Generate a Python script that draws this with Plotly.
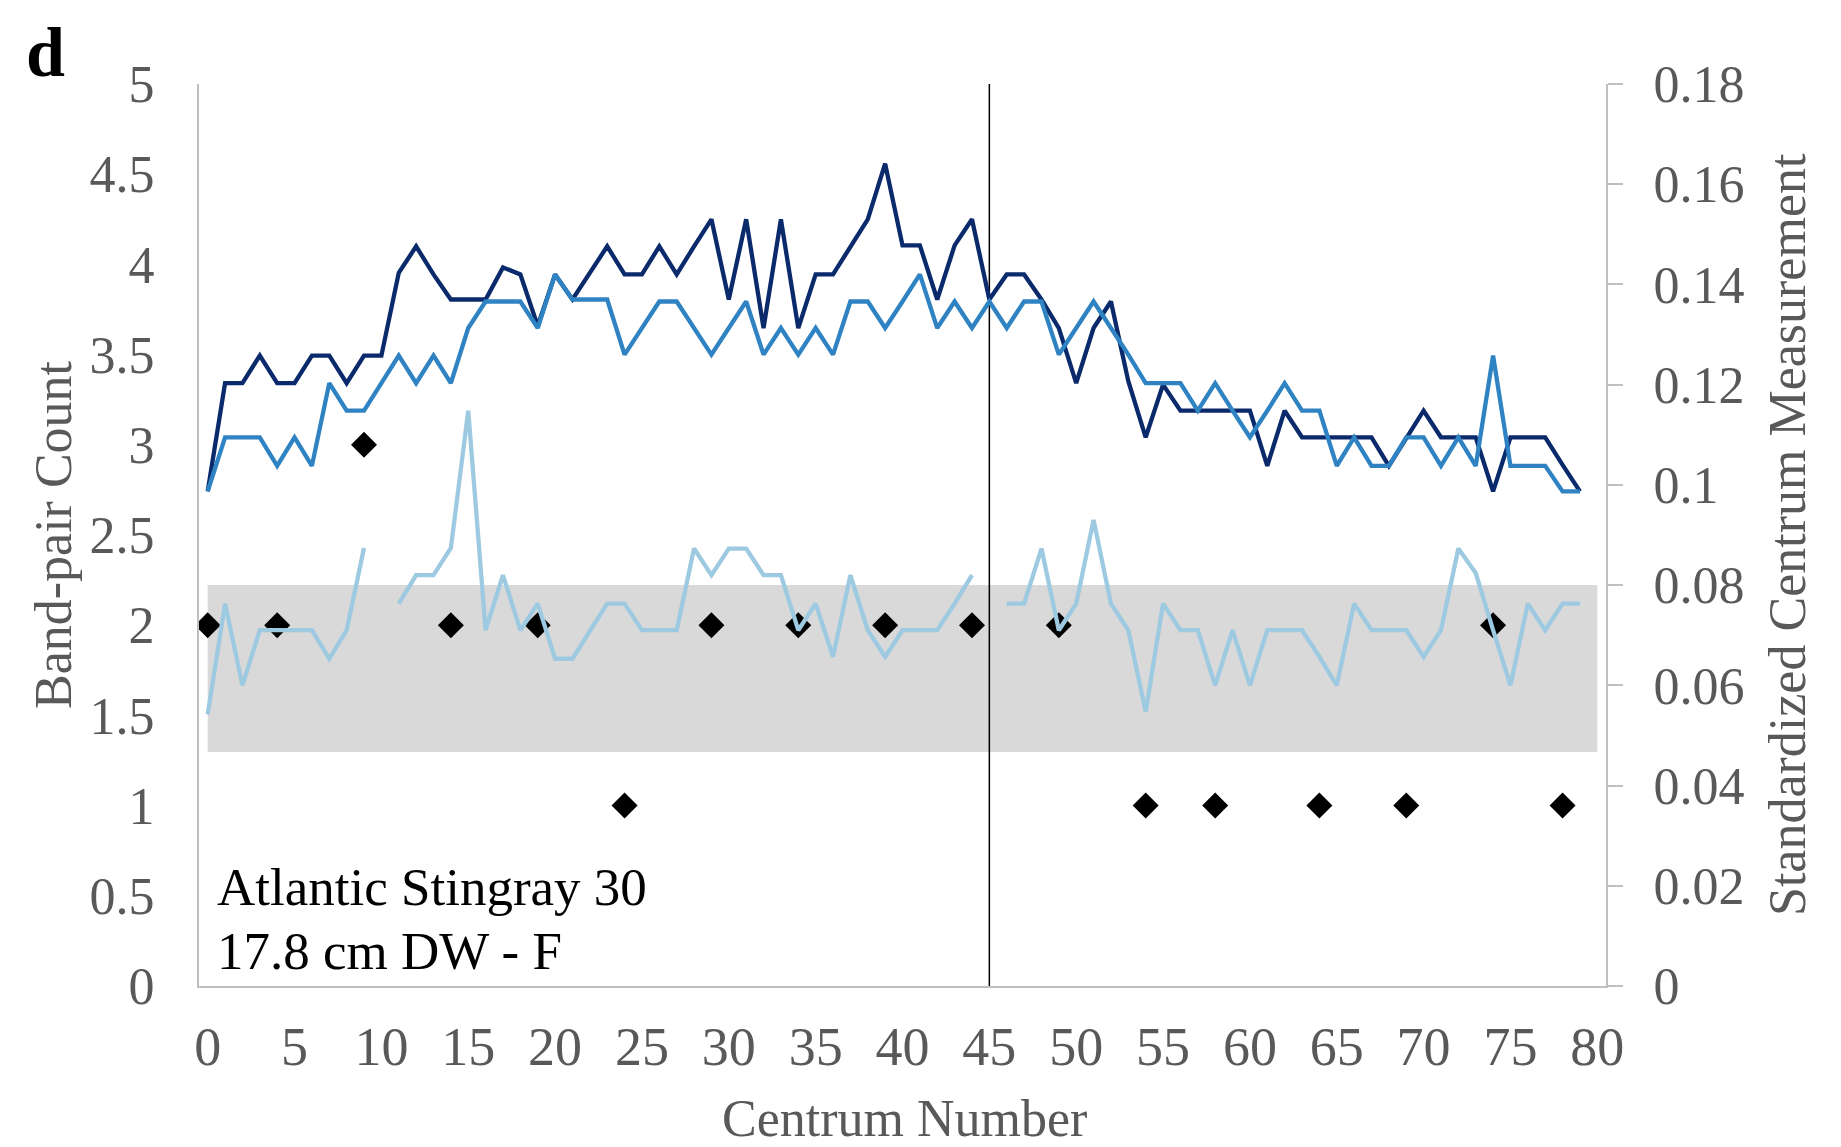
import plotly.graph_objects as go

centrum = list(range(80))

dark_series = [0.0987, 0.1203, 0.1203, 0.1258, 0.1203, 0.1203, 0.1258, 0.1258, 0.1203, 0.1258,
               0.1258, 0.1423, 0.1476, 0.1420, 0.1370, 0.1370, 0.1370, 0.1434, 0.1420, 0.1317,
               0.1420, 0.1370, 0.1423, 0.1476, 0.1420, 0.1420, 0.1476, 0.1420, 0.1476, 0.1530,
               0.1370, 0.1530, 0.1313, 0.1530, 0.1313, 0.1420, 0.1420, 0.1476, 0.1530, 0.1641,
               0.1478, 0.1478, 0.1370, 0.1478, 0.1530, 0.1370, 0.1420, 0.1420, 0.1370, 0.1313,
               0.1203, 0.1313, 0.1366, 0.1207, 0.1095, 0.1200, 0.1148, 0.1148, 0.1148, 0.1148,
               0.1148, 0.1038, 0.1148, 0.1095, 0.1095, 0.1095, 0.1095, 0.1095, 0.1038, 0.1095,
               0.1148, 0.1095, 0.1095, 0.1095, 0.0987, 0.1095, 0.1095, 0.1095, 0.1040, 0.0987]

medium_series = [0.0987, 0.1095, 0.1095, 0.1095, 0.1038, 0.1095, 0.1038, 0.1203, 0.1148, 0.1148,
                 0.1203, 0.1258, 0.1203, 0.1258, 0.1203, 0.1313, 0.1366, 0.1366, 0.1366, 0.1313,
                 0.1420, 0.1370, 0.1370, 0.1370, 0.1260, 0.1313, 0.1366, 0.1366, 0.1313, 0.1260,
                 0.1313, 0.1366, 0.1260, 0.1313, 0.1260, 0.1313, 0.1260, 0.1366, 0.1366, 0.1313,
                 0.1366, 0.1420, 0.1313, 0.1366, 0.1313, 0.1366, 0.1313, 0.1366, 0.1366, 0.1260,
                 0.1313, 0.1366, 0.1313, 0.1260, 0.1203, 0.1203, 0.1203, 0.1148, 0.1203, 0.1148,
                 0.1095, 0.1148, 0.1203, 0.1148, 0.1148, 0.1038, 0.1095, 0.1038, 0.1038, 0.1095,
                 0.1095, 0.1038, 0.1095, 0.1038, 0.1258, 0.1038, 0.1038, 0.1038, 0.0987, 0.0987]

light_series = [0.0542, 0.0763, 0.0600, 0.0710, 0.0710, 0.0710, 0.0710, 0.0653, 0.0710, 0.0874,
                None, 0.0763, 0.0820, 0.0820, 0.0874, 0.1148, 0.0710, 0.0820, 0.0710, 0.0763,
                0.0653, 0.0653, 0.0710, 0.0763, 0.0763, 0.0710, 0.0710, 0.0710, 0.0873, 0.0820,
                0.0873, 0.0873, 0.0820, 0.0820, 0.0710, 0.0763, 0.0657, 0.0820, 0.0710, 0.0657,
                0.0710, 0.0710, 0.0710, 0.0763, 0.0820, None, 0.0763, 0.0763, 0.0873, 0.0710,
                0.0763, 0.0930, 0.0763, 0.0710, 0.0547, 0.0763, 0.0710, 0.0710, 0.0600, 0.0710,
                0.0600, 0.0710, 0.0710, 0.0710, 0.0657, 0.0600, 0.0763, 0.0710, 0.0710, 0.0710,
                0.0657, 0.0710, 0.0873, 0.0824, 0.0710, 0.0600, 0.0763, 0.0710, 0.0763, 0.0763]

band_x = [0, 4, 9, 14, 19, 24, 29, 34, 39, 44, 49, 54, 58, 64, 69, 74, 78]
band_counts = [2, 2, 3, 2, 2, 1, 2, 2, 2, 2, 2, 1, 1, 1, 1, 2, 1]

band_range = [0.0467, 0.0800]
split_centrum = 45

x_ticks = list(range(0, 85, 5))
label_lines = ["Atlantic Stingray 30", "17.8 cm DW - F"]

FONT = "Liberation Serif"
GREY_TXT = "#595959"
AXIS_COL = "#bfbfbf"

fig = go.Figure()

fig.add_trace(go.Scatter(x=band_x, y=band_counts, mode="markers",
                         marker=dict(symbol="diamond", size=20, color="black"),
                         yaxis="y", showlegend=False))
fig.add_trace(go.Scatter(x=centrum, y=dark_series, mode="lines",
                         line=dict(color="#0b2a6b", width=4.3), yaxis="y2", showlegend=False))
fig.add_trace(go.Scatter(x=centrum, y=medium_series, mode="lines",
                         line=dict(color="#2f83c3", width=4.3), yaxis="y2", showlegend=False))
fig.add_trace(go.Scatter(x=centrum, y=light_series, mode="lines", connectgaps=False,
                         line=dict(color="#9ecae1", width=4.3), yaxis="y2", showlegend=False))

fig.add_shape(type="rect", xref="x", yref="y2", x0=0, x1=80, y0=band_range[0], y1=band_range[1],
              fillcolor="#d9d9d9", line=dict(width=0), layer="below")
fig.add_shape(type="line", xref="x", yref="y", x0=split_centrum, x1=split_centrum, y0=0, y1=5,
              line=dict(color="black", width=1.5), layer="below")

L, R, T, B = 199, 1606, 84, 986
W, H = 1841, 1147
PW, PH = R - L, B - T


def px(xp):
    return (xp - L) / PW


def py(yp):
    return (B - yp) / PH


fig.update_layout(
    width=W, height=H,
    margin=dict(l=L, r=W - R, t=T, b=H - B, pad=0),
    plot_bgcolor="white", paper_bgcolor="white",
    font=dict(family=FONT, color=GREY_TXT),
    xaxis=dict(range=[-0.5, 80.5], tickvals=x_ticks, showgrid=False, zeroline=False,
               showline=True, linecolor=AXIS_COL, linewidth=2, ticks="",
               tickfont=dict(family=FONT, size=54, color=GREY_TXT), ticklabelstandoff=12),
    yaxis=dict(range=[0, 5], dtick=0.5, showgrid=False, zeroline=False,
               showline=True, linecolor=AXIS_COL, linewidth=2, ticks="",
               tickfont=dict(family=FONT, size=52, color=GREY_TXT), ticklabelstandoff=32),
    yaxis2=dict(range=[0, 0.18], dtick=0.02, overlaying="y", side="right", showgrid=False,
                zeroline=False, showline=True, linecolor=AXIS_COL, linewidth=2,
                ticks="outside", ticklen=15, tickwidth=2, tickcolor=AXIS_COL,
                tickfont=dict(family=FONT, size=52, color=GREY_TXT), ticklabelstandoff=20),
)

anns = [
    dict(text="Band-pair Count", x=px(53), y=0.5, textangle=-90, font=dict(size=52, color=GREY_TXT)),
    dict(text="Standardized Centrum Measurement", x=px(1787), y=0.5, textangle=-90,
         font=dict(size=52, color=GREY_TXT)),
    dict(text="Centrum Number", x=px(904), y=py(1118), font=dict(size=52, color=GREY_TXT)),
]
for a in anns:
    a.update(xref="paper", yref="paper", showarrow=False, xanchor="center", yanchor="middle")
    fig.add_annotation(**a)

fig.add_annotation(text="<b>d</b>", xref="paper", yref="paper", x=px(24), y=py(52),
                   xanchor="left", yanchor="middle", showarrow=False,
                   font=dict(family=FONT, size=70, color="black"))
for line_text, yc in zip(label_lines, [887, 951]):
    fig.add_annotation(text=line_text, xref="paper", yref="paper", x=px(215), y=py(yc),
                       xanchor="left", yanchor="middle", showarrow=False,
                       font=dict(family=FONT, size=53, color="black"))

fig.write_html("out.html")
